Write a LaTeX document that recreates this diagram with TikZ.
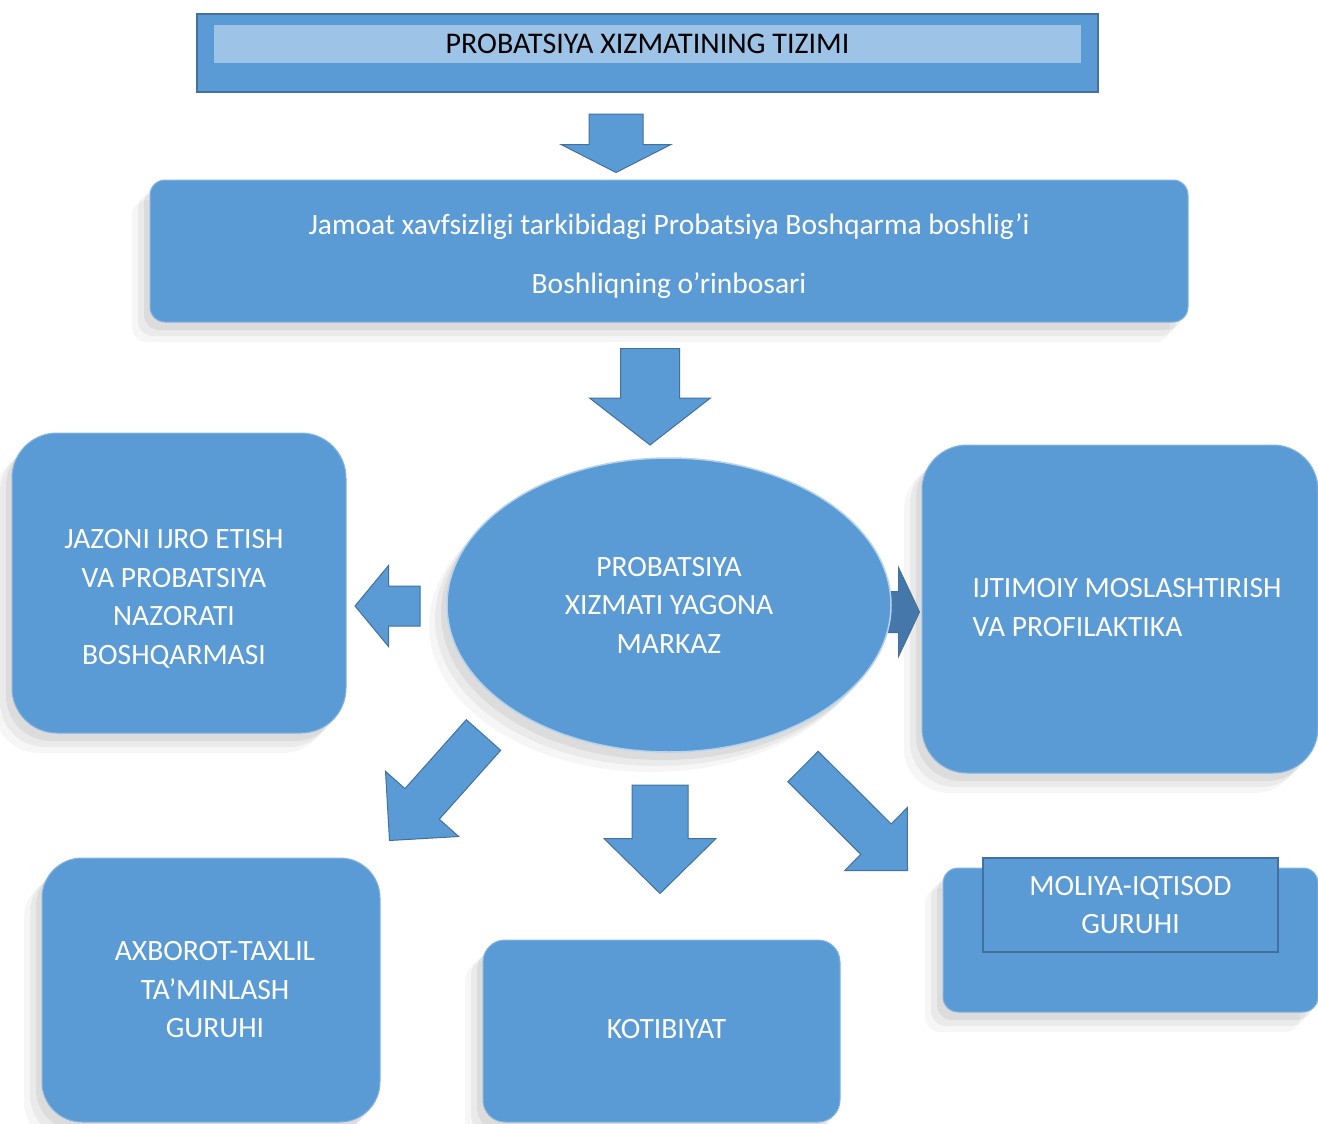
\documentclass[tikz,border=0pt]{standalone}
\usepackage{fontspec}
\setmainfont{Carlito}
\usetikzlibrary{shapes.geometric,shadows,calc}

\definecolor{boxblue}{HTML}{5B9BD5}
\definecolor{boxline}{HTML}{41719C}
\definecolor{bandblue}{HTML}{9DC3E6}
\definecolor{darkarrow}{HTML}{4677AA}

% block arrow: [fill]{tail}{tip}{half shaft}{half head}{head length}
\newcommand{\blkarrow}[6][boxblue]{%
  \coordinate (bt) at #2;
  \coordinate (bp) at #3;
  \coordinate (bb) at ($(bp)!#6!(bt)$);
  \filldraw[fill=#1, draw=boxline, line width=1pt]
    ($(bt)!#4!90:(bp)$) -- ($(bb)!#4!-90:(bt)$) -- ($(bb)!#5!-90:(bt)$) -- (bp)
    -- ($(bb)!#5!90:(bt)$) -- ($(bb)!#4!90:(bt)$) -- ($(bt)!#4!-90:(bp)$) -- cycle;
}

\tikzset{
  unit/.style={fill=boxblue, draw=boxblue!75!white, line width=1pt, text=white,
    inner sep=0pt, align=center, font=\fontsize{29.5}{38.5}\selectfont,
    rounded corners=#1,
    drop shadow={shadow xshift=-18pt, shadow yshift=-20pt, opacity=.07},
    drop shadow={shadow xshift=-12pt, shadow yshift=-14pt, opacity=.1},
    drop shadow={shadow xshift=-6pt, shadow yshift=-8pt, opacity=.13}},
  unit/.default=40pt,
  lbl/.style={text=white, inner sep=0pt, font=\fontsize{29.5}{38.5}\selectfont},
}

\begin{document}
\begin{tikzpicture}[x=1pt, y=-1pt]
\useasboundingbox (0,0) rectangle (1318,1124);

% title
\node[fill=boxblue, draw=boxline, line width=2pt, minimum width=901pt, minimum height=78pt] (title) at (647.5,53) {};
\node[fill=bandblue, inner sep=0pt, minimum width=867pt, minimum height=38pt,
  font=\fontsize{30}{30}\selectfont] (titleband) at (647.5,44) {PROBATSIYA XIZMATINING TIZIMI};

\node[unit=15pt, minimum width=1038pt, minimum height=142pt] (boss) at (669,251) {};
\node[lbl, align=center] (bosstxt) at ($(boss)+(0,5)$)
  {Jamoat xavfsizligi tarkibidagi Probatsiya Boshqarma boshlig’i\\[20.5pt]Boshliqning o’rinbosari};

\node[unit=45pt, minimum width=334pt, minimum height=300pt] (jazo) at (179,583) {};
\node[lbl, align=center] (jazotxt) at ($(jazo)+(-5,16)$) {JAZONI IJRO ETISH\\VA PROBATSIYA\\NAZORATI\\BOSHQARMASI};

\node[unit=45pt, minimum width=396pt, minimum height=328pt] (ijt) at (1120,609) {};
\node[lbl, align=left, anchor=west] (ijttxt) at ($(ijt.west)+(51,-1.5)$) {IJTIMOIY MOSLASHTIRISH\\VA PROFILAKTIKA};

\node[unit=40pt, minimum width=338pt, minimum height=264pt] (axb) at (211,990) {};
\node[lbl, align=center] (axbtxt) at ($(axb)+(4,0)$) {AXBOROT-TAXLIL\\TA’MINLASH\\GURUHI};

\node[unit=22pt, minimum width=357pt, minimum height=182pt] (kotib) at (661.5,1031) {};
\node[lbl] (kotibtxt) at ($(kotib)+(5,-2)$) {KOTIBIYAT};

\node[unit=15pt, minimum width=375pt, minimum height=144pt] (moliya) at (1130.5,940) {};
\node[fill=boxblue, draw=boxline, line width=2pt, text=white, align=center, inner sep=0pt,
  minimum width=295pt, minimum height=94pt, font=\fontsize{29.5}{38.5}\selectfont] (molhead) at (1130.5,905)
  {MOLIYA-IQTISOD\\GURUHI};

\blkarrow[darkarrow]{($(ijt.west)+(-50,3)$)}{($(ijt.west)+(-2,3)$)}{20.5pt}{44.5pt}{21pt}

\node[unit, ellipse, draw=white!55!boxblue, line width=1.5pt, minimum width=444pt, minimum height=294pt] (centre) at (669,605)
  {PROBATSIYA\\XIZMATI YAGONA\\MARKAZ};

\blkarrow{($(title.south)+(-31.5,21)$)}{($(boss.north)+(-53,-7)$)}{27pt}{55pt}{28pt}
\blkarrow{($(boss.south)+(-19,26)$)}{($(centre)+(-19,-160)$)}{29.5pt}{60.5pt}{47pt}
\blkarrow{($(centre)+(-249,1)$)}{($(jazo.east)+(8.5,23)$)}{20pt}{40.5pt}{33.5pt}
\blkarrow{($(centre)+(-185.5,130)$)}{($(axb.north east)+(9,-17)$)}{23pt}{49pt}{49pt}
\blkarrow{($(centre)+(-9,180)$)}{($(kotib.north)+(-1.5,-46)$)}{28pt}{56pt}{55pt}
\blkarrow{($(centre)+(134,161.5)$)}{($(moliya.north west)+(-35,3)$)}{21.5pt}{44.5pt}{44.5pt}
\end{tikzpicture}
\end{document}
